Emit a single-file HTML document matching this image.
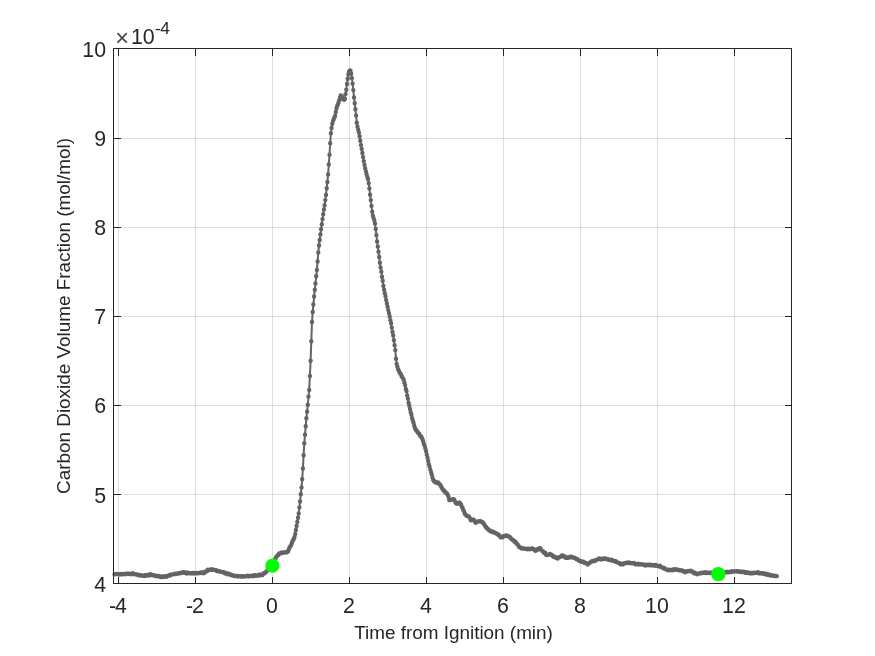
<!DOCTYPE html>
<html lang="en"><head><meta charset="utf-8"><title>Carbon Dioxide Volume Fraction</title>
<style>html,body{margin:0;padding:0;background:#fff}body{width:875px;height:656px;overflow:hidden}svg{display:block}text{font-family:"Liberation Sans",Arial,Helvetica,sans-serif;fill:#262626}</style></head><body>
<svg width="875" height="656" viewBox="0 0 875 656">
<rect width="875" height="656" fill="#fff"/>
<path d="M118.5,49.0V583.0M195.5,49.0V583.0M272.5,49.0V583.0M349.5,49.0V583.0M426.5,49.0V583.0M503.5,49.0V583.0M580.5,49.0V583.0M657.5,49.0V583.0M734.5,49.0V583.0" stroke="#262626" stroke-opacity="0.15" stroke-width="1" fill="none" shape-rendering="crispEdges"/>
<path d="M114.0,494.5H791.0M114.0,405.5H791.0M114.0,316.5H791.0M114.0,227.5H791.0M114.0,138.5H791.0" stroke="#262626" stroke-opacity="0.15" stroke-width="1" fill="none" shape-rendering="crispEdges"/>
<path d="M114.6,574.3 L115.3,574.4 L116.0,574.2 L116.7,574.0 L117.4,574.1 L118.1,574.0 L118.8,574.2 L119.5,574.6 L120.2,574.1 L120.9,574.0 L121.6,574.3 L122.3,574.3 L123.0,574.2 L123.7,573.9 L124.4,574.1 L125.1,574.3 L125.8,573.7 L126.5,574.0 L127.2,573.6 L127.9,573.7 L128.6,573.6 L129.3,574.0 L130.0,573.7 L130.7,574.1 L131.4,574.1 L132.1,574.0 L132.8,573.3 L133.5,574.0 L134.2,574.3 L134.9,574.4 L135.6,574.1 L136.3,574.5 L137.0,574.5 L137.7,574.7 L138.4,575.3 L139.1,574.9 L139.8,575.2 L140.5,575.6 L141.2,575.3 L141.9,575.6 L142.6,575.8 L143.3,575.9 L144.0,575.5 L144.7,575.7 L145.4,575.9 L146.1,575.0 L146.8,575.5 L147.5,575.2 L148.2,574.9 L148.9,575.5 L149.6,575.0 L150.3,574.3 L151.0,574.7 L151.7,575.0 L152.4,575.0 L153.1,575.3 L153.8,575.3 L154.5,575.6 L155.2,576.0 L155.9,575.6 L156.6,576.0 L157.3,575.9 L158.0,576.2 L158.7,576.0 L159.4,576.3 L160.1,576.6 L160.8,577.1 L161.5,577.1 L162.2,576.4 L162.9,576.6 L163.6,577.0 L164.3,576.2 L165.0,576.6 L165.7,576.5 L166.4,576.7 L167.1,576.3 L167.8,575.8 L168.5,575.5 L169.2,575.3 L169.9,575.6 L170.6,574.8 L171.3,574.6 L172.0,574.6 L172.7,574.4 L173.4,574.2 L174.1,573.9 L174.8,574.0 L175.5,573.8 L176.2,574.1 L176.9,573.8 L177.6,573.5 L178.3,573.6 L179.0,573.2 L179.7,573.4 L180.4,573.0 L181.1,573.1 L181.8,572.4 L182.5,572.7 L183.2,572.2 L183.9,572.1 L184.6,572.7 L185.3,572.5 L186.0,572.9 L186.7,573.5 L187.4,572.7 L188.1,572.8 L188.8,573.1 L189.5,573.2 L190.2,573.1 L190.9,573.1 L191.6,573.4 L192.3,573.4 L193.0,573.0 L193.7,573.2 L194.4,573.2 L195.1,572.9 L195.8,573.3 L196.5,572.9 L197.2,573.4 L197.9,573.2 L198.6,573.1 L199.3,572.9 L200.0,573.0 L200.7,572.5 L201.4,572.7 L202.1,573.1 L202.8,572.3 L203.5,573.2 L204.2,572.3 L204.9,572.5 L205.6,571.5 L206.3,571.4 L207.0,570.7 L207.7,569.8 L208.4,570.2 L209.1,570.2 L209.8,569.7 L210.5,569.6 L211.2,569.6 L211.9,569.3 L212.6,569.9 L213.3,569.6 L214.0,569.9 L214.7,569.9 L215.4,570.1 L216.1,570.1 L216.8,571.0 L217.5,570.7 L218.2,571.2 L218.9,571.1 L219.6,571.1 L220.3,571.4 L221.0,571.6 L221.7,572.0 L222.4,572.1 L223.1,572.3 L223.8,572.3 L224.5,572.7 L225.2,573.6 L225.9,573.2 L226.6,573.3 L227.3,573.9 L228.0,574.4 L228.7,573.8 L229.4,574.4 L230.1,574.5 L230.8,574.4 L231.5,575.3 L232.2,575.3 L232.9,575.5 L233.6,575.5 L234.3,576.0 L235.0,575.9 L235.7,576.1 L236.4,575.9 L237.1,575.9 L237.8,576.6 L238.5,576.2 L239.2,576.4 L239.9,576.4 L240.6,576.3 L241.3,576.3 L242.0,576.7 L242.7,576.4 L243.4,576.3 L244.1,576.3 L244.8,576.6 L245.5,576.4 L246.2,576.3 L246.9,576.0 L247.6,575.7 L248.3,576.3 L249.0,576.3 L249.7,575.9 L250.4,576.0 L251.1,576.0 L251.8,576.0 L252.5,576.0 L253.2,575.5 L253.9,576.0 L254.6,575.2 L255.3,575.7 L256.0,575.5 L256.7,575.6 L257.4,575.8 L258.1,575.6 L258.8,574.8 L259.5,574.6 L260.2,575.2 L260.9,574.7 L261.6,574.9 L262.3,575.1 L263.0,573.9 L263.7,573.2 L264.4,573.4 L265.1,572.7 L265.8,572.1 L266.5,571.5 L267.2,570.6 L267.9,569.7 L268.6,569.4 L269.3,568.4 L270.0,567.5 L270.7,567.4 L271.4,566.6 L272.1,566.0 L272.8,564.4 L273.5,562.9 L274.2,561.2 L274.9,559.6 L275.6,558.3 L276.3,556.6 L277.0,556.1 L277.7,555.3 L278.4,555.0 L279.1,553.4 L279.8,553.8 L280.5,553.3 L281.2,553.1 L281.9,552.5 L282.6,552.5 L283.3,552.7 L284.0,552.4 L284.7,552.4 L285.4,552.2 L286.1,552.6 L286.8,552.2 L287.5,551.5 L288.2,551.2 L288.9,549.3 L289.6,547.3 L290.3,546.5 L291.0,545.4 L291.7,543.5 L292.4,541.5 L293.1,540.0 L293.8,539.0 L294.5,537.1 L295.2,534.1 L295.9,530.0 L296.6,525.9 L297.3,522.0 L298.0,517.8 L298.7,513.5 L299.4,507.4 L300.1,501.5 L300.8,494.2 L301.5,487.4 L302.2,479.3 L302.9,468.5 L303.6,455.3 L304.3,443.3 L305.0,434.8 L305.7,426.2 L306.4,418.3 L307.1,411.7 L307.8,404.8 L308.5,396.6 L309.2,390.0 L309.9,375.9 L310.6,360.8 L311.3,341.3 L312.0,321.9 L312.7,312.0 L313.4,304.4 L314.1,296.5 L314.8,289.7 L315.5,283.4 L316.2,276.3 L316.9,269.9 L317.6,261.5 L318.3,252.4 L319.0,245.5 L319.7,240.0 L320.4,234.5 L321.1,229.2 L321.8,224.2 L322.5,219.1 L323.2,214.2 L323.9,209.5 L324.6,205.2 L325.3,200.1 L326.0,194.9 L326.7,188.3 L327.4,182.0 L328.1,174.4 L328.8,164.4 L329.5,154.7 L330.2,143.3 L330.9,133.3 L331.6,127.9 L332.3,123.7 L333.0,120.9 L333.7,119.2 L334.4,117.5 L335.1,115.9 L335.8,112.0 L336.5,108.3 L337.2,106.0 L337.9,104.6 L338.6,102.3 L339.3,100.1 L340.0,97.7 L340.7,95.4 L341.4,95.9 L342.1,96.9 L342.8,98.3 L343.5,99.5 L344.2,99.8 L344.9,98.9 L345.6,94.1 L346.3,89.7 L347.0,84.0 L347.7,78.7 L348.4,74.2 L349.1,71.4 L349.8,70.6 L350.5,70.7 L351.2,73.6 L351.9,78.1 L352.6,83.6 L353.3,90.1 L354.0,97.4 L354.7,103.2 L355.4,109.3 L356.1,115.6 L356.8,122.7 L357.5,126.8 L358.2,129.8 L358.9,132.5 L359.6,136.3 L360.3,140.8 L361.0,145.1 L361.7,148.9 L362.4,153.0 L363.1,157.1 L363.8,161.1 L364.5,164.8 L365.2,168.2 L365.9,171.5 L366.6,174.3 L367.3,177.0 L368.0,178.9 L368.7,183.3 L369.4,188.4 L370.1,194.8 L370.8,200.1 L371.5,205.9 L372.2,211.8 L372.9,215.8 L373.6,218.3 L374.3,220.5 L375.0,223.5 L375.7,228.9 L376.4,235.1 L377.1,241.5 L377.8,246.6 L378.5,251.7 L379.2,257.0 L379.9,262.8 L380.6,267.6 L381.3,271.8 L382.0,276.7 L382.7,280.8 L383.4,285.9 L384.1,289.7 L384.8,293.2 L385.5,296.3 L386.2,300.0 L386.9,303.4 L387.6,306.8 L388.3,310.1 L389.0,313.2 L389.7,316.4 L390.4,320.3 L391.1,323.3 L391.8,327.6 L392.5,332.0 L393.2,335.4 L393.9,340.3 L394.6,345.3 L395.3,350.1 L396.0,358.8 L396.7,363.9 L397.4,366.8 L398.1,369.2 L398.8,370.6 L399.5,372.3 L400.2,373.5 L400.9,374.1 L401.6,376.3 L402.3,377.3 L403.0,378.8 L403.7,379.6 L404.4,382.5 L405.1,385.1 L405.8,389.0 L406.5,391.1 L407.2,395.4 L407.9,398.6 L408.6,402.7 L409.3,405.7 L410.0,409.0 L410.7,412.4 L411.4,414.7 L412.1,418.1 L412.8,420.5 L413.5,422.7 L414.2,425.4 L414.9,428.0 L415.6,429.5 L416.3,430.3 L417.0,431.2 L417.7,432.2 L418.4,433.0 L419.1,433.8 L419.8,435.1 L420.5,436.3 L421.2,436.5 L421.9,437.9 L422.6,439.6 L423.3,441.7 L424.0,444.3 L424.7,446.0 L425.4,448.7 L426.1,451.3 L426.8,454.8 L427.5,457.8 L428.2,460.9 L428.9,464.5 L429.6,466.8 L430.3,469.6 L431.0,472.1 L431.7,474.3 L432.4,477.2 L433.1,479.8 L433.8,481.1 L434.5,481.3 L435.2,482.2 L435.9,482.0 L436.6,482.8 L437.3,482.5 L438.0,482.5 L438.7,483.2 L439.4,484.1 L440.1,484.6 L440.8,485.9 L441.5,487.3 L442.2,488.4 L442.9,489.8 L443.6,490.2 L444.3,490.9 L445.0,492.0 L445.7,492.3 L446.4,493.3 L447.1,493.6 L447.8,495.0 L448.5,496.9 L449.2,500.0 L449.9,500.1 L450.6,500.0 L451.3,499.6 L452.0,499.4 L452.7,499.1 L453.4,499.3 L454.1,499.5 L454.8,500.9 L455.5,502.6 L456.2,503.3 L456.9,503.8 L457.6,503.6 L458.3,502.9 L459.0,502.6 L459.7,502.7 L460.4,504.3 L461.1,504.5 L461.8,506.7 L462.5,507.6 L463.2,509.9 L463.9,511.0 L464.6,513.0 L465.3,514.4 L466.0,514.9 L466.7,515.9 L467.4,516.1 L468.1,516.1 L468.8,516.4 L469.5,517.4 L470.2,519.0 L470.9,520.2 L471.6,520.0 L472.3,519.8 L473.0,519.4 L473.7,519.8 L474.4,520.7 L475.1,522.0 L475.8,522.8 L476.5,522.0 L477.2,521.6 L477.9,521.5 L478.6,521.2 L479.3,521.1 L480.0,521.4 L480.7,521.3 L481.4,521.9 L482.1,521.9 L482.8,522.5 L483.5,523.5 L484.2,524.5 L484.9,525.5 L485.6,526.7 L486.3,527.3 L487.0,528.2 L487.7,528.9 L488.4,529.2 L489.1,530.2 L489.8,530.5 L490.5,531.3 L491.2,531.6 L491.9,531.2 L492.6,532.0 L493.3,532.2 L494.0,532.3 L494.7,532.6 L495.4,533.0 L496.1,533.2 L496.8,533.7 L497.5,534.0 L498.2,534.7 L498.9,535.0 L499.6,536.1 L500.3,536.8 L501.0,537.4 L501.7,537.3 L502.4,537.2 L503.1,536.2 L503.8,536.4 L504.5,535.9 L505.2,535.8 L505.9,535.8 L506.6,535.5 L507.3,535.6 L508.0,535.9 L508.7,536.4 L509.4,536.9 L510.1,537.1 L510.8,538.2 L511.5,539.0 L512.2,539.6 L512.9,540.0 L513.6,540.1 L514.3,541.5 L515.0,541.9 L515.7,542.0 L516.4,543.6 L517.1,543.9 L517.8,544.7 L518.5,545.7 L519.2,547.0 L519.9,547.2 L520.6,547.6 L521.3,548.3 L522.0,548.5 L522.7,548.3 L523.4,548.5 L524.1,548.4 L524.8,548.6 L525.5,548.9 L526.2,549.0 L526.9,548.9 L527.6,549.2 L528.3,548.8 L529.0,549.1 L529.7,549.2 L530.4,549.0 L531.1,548.9 L531.8,548.5 L532.5,548.5 L533.2,549.2 L533.9,549.3 L534.6,549.7 L535.3,550.8 L536.0,550.5 L536.7,550.2 L537.4,549.2 L538.1,549.2 L538.8,548.7 L539.5,548.2 L540.2,548.2 L540.9,549.4 L541.6,550.4 L542.3,550.9 L543.0,551.3 L543.7,552.2 L544.4,553.1 L545.1,552.8 L545.8,554.2 L546.5,555.1 L547.2,554.9 L547.9,554.9 L548.6,554.5 L549.3,554.1 L550.0,553.9 L550.7,554.5 L551.4,554.6 L552.1,555.2 L552.8,555.9 L553.5,556.7 L554.2,556.5 L554.9,556.9 L555.6,557.3 L556.3,558.0 L557.0,558.0 L557.7,558.6 L558.4,557.5 L559.1,557.3 L559.8,557.0 L560.5,556.8 L561.2,556.5 L561.9,555.4 L562.6,555.5 L563.3,556.3 L564.0,556.4 L564.7,556.5 L565.4,557.6 L566.1,557.9 L566.8,557.9 L567.5,557.5 L568.2,557.7 L568.9,557.2 L569.6,557.4 L570.3,556.7 L571.0,556.8 L571.7,557.2 L572.4,557.1 L573.1,557.6 L573.8,557.7 L574.5,557.7 L575.2,558.3 L575.9,558.5 L576.6,559.3 L577.3,559.2 L578.0,559.6 L578.7,560.4 L579.4,561.0 L580.1,561.2 L580.8,560.9 L581.5,561.3 L582.2,561.9 L582.9,561.7 L583.6,561.8 L584.3,562.5 L585.0,563.0 L585.7,563.1 L586.4,563.3 L587.1,563.7 L587.8,564.6 L588.5,563.6 L589.2,563.1 L589.9,562.6 L590.6,562.1 L591.3,561.4 L592.0,561.5 L592.7,560.9 L593.4,560.9 L594.1,560.6 L594.8,561.0 L595.5,560.4 L596.2,559.9 L596.9,559.6 L597.6,559.4 L598.3,559.3 L599.0,558.5 L599.7,558.6 L600.4,558.7 L601.1,559.5 L601.8,559.0 L602.5,558.6 L603.2,558.8 L603.9,559.1 L604.6,558.4 L605.3,558.4 L606.0,559.0 L606.7,559.0 L607.4,559.2 L608.1,559.1 L608.8,559.9 L609.5,560.1 L610.2,559.9 L610.9,560.2 L611.6,559.6 L612.3,560.5 L613.0,560.5 L613.7,560.8 L614.4,561.2 L615.1,561.2 L615.8,561.2 L616.5,562.1 L617.2,562.2 L617.9,562.6 L618.6,562.9 L619.3,563.3 L620.0,563.1 L620.7,564.4 L621.4,564.2 L622.1,564.3 L622.8,564.4 L623.5,563.7 L624.2,563.1 L624.9,563.2 L625.6,563.0 L626.3,563.1 L627.0,563.1 L627.7,562.4 L628.4,562.9 L629.1,562.5 L629.8,563.1 L630.5,563.0 L631.2,563.1 L631.9,563.2 L632.6,563.2 L633.3,563.2 L634.0,563.0 L634.7,563.6 L635.4,564.2 L636.1,564.3 L636.8,564.2 L637.5,564.1 L638.2,563.8 L638.9,564.5 L639.6,564.2 L640.3,564.3 L641.0,564.3 L641.7,564.5 L642.4,564.4 L643.1,564.6 L643.8,564.5 L644.5,564.7 L645.2,565.5 L645.9,564.9 L646.6,564.8 L647.3,565.0 L648.0,565.1 L648.7,564.6 L649.4,564.8 L650.1,565.2 L650.8,565.0 L651.5,564.9 L652.2,565.4 L652.9,564.9 L653.6,565.2 L654.3,565.2 L655.0,565.8 L655.7,565.0 L656.4,565.4 L657.1,565.6 L657.8,566.0 L658.5,566.1 L659.2,566.5 L659.9,565.7 L660.6,566.8 L661.3,566.9 L662.0,567.2 L662.7,567.9 L663.4,567.9 L664.1,568.0 L664.8,568.9 L665.5,568.9 L666.2,569.3 L666.9,569.7 L667.6,569.8 L668.3,570.3 L669.0,569.9 L669.7,569.6 L670.4,570.0 L671.1,570.1 L671.8,570.0 L672.5,570.3 L673.2,569.9 L673.9,569.3 L674.6,569.9 L675.3,569.5 L676.0,569.5 L676.7,569.4 L677.4,569.7 L678.1,569.8 L678.8,570.3 L679.5,570.2 L680.2,570.4 L680.9,570.6 L681.6,570.3 L682.3,570.8 L683.0,571.0 L683.7,571.4 L684.4,571.1 L685.1,572.2 L685.8,571.9 L686.5,571.4 L687.2,571.1 L687.9,571.4 L688.6,571.3 L689.3,570.9 L690.0,571.0 L690.7,570.8 L691.4,571.5 L692.1,571.5 L692.8,572.0 L693.5,572.6 L694.2,573.4 L694.9,572.7 L695.6,573.2 L696.3,573.4 L697.0,574.2 L697.7,573.6 L698.4,573.6 L699.1,573.6 L699.8,573.3 L700.5,573.2 L701.2,573.2 L701.9,572.6 L702.6,572.7 L703.3,572.8 L704.0,572.9 L704.7,572.7 L705.4,572.3 L706.1,572.7 L706.8,573.0 L707.5,573.0 L708.2,572.8 L708.9,572.6 L709.6,573.0 L710.3,572.7 L711.0,572.6 L711.7,572.7 L712.4,573.4 L713.1,573.1 L713.8,573.4 L714.5,573.0 L715.2,573.5 L715.9,573.1 L716.6,573.3 L717.3,574.0 L718.0,573.6 L718.7,573.2 L719.4,573.2 L720.1,573.2 L720.8,573.3 L721.5,572.7 L722.2,572.2 L722.9,572.5 L723.6,572.5 L724.3,572.4 L725.0,572.6 L725.7,572.2 L726.4,572.3 L727.1,571.6 L727.8,572.1 L728.5,572.4 L729.2,572.0 L729.9,571.8 L730.6,571.7 L731.3,572.1 L732.0,571.3 L732.7,571.5 L733.4,571.6 L734.1,571.6 L734.8,571.2 L735.5,571.4 L736.2,571.3 L736.9,571.5 L737.6,571.5 L738.3,571.2 L739.0,571.6 L739.7,571.9 L740.4,571.4 L741.1,571.7 L741.8,572.0 L742.5,571.6 L743.2,572.0 L743.9,571.7 L744.6,572.3 L745.3,572.8 L746.0,572.8 L746.7,572.3 L747.4,572.7 L748.1,572.6 L748.8,572.7 L749.5,573.2 L750.2,572.6 L750.9,573.3 L751.6,573.1 L752.3,573.4 L753.0,573.0 L753.7,572.7 L754.4,573.0 L755.1,573.0 L755.8,572.8 L756.5,572.9 L757.2,572.6 L757.9,572.2 L758.6,573.2 L759.3,573.2 L760.0,573.1 L760.7,573.2 L761.4,573.5 L762.1,573.2 L762.8,573.2 L763.5,573.4 L764.2,574.0 L764.9,573.4 L765.6,574.3 L766.3,574.0 L767.0,574.0 L767.7,574.9 L768.4,574.6 L769.1,574.5 L769.8,574.9 L770.5,575.5 L771.2,575.6 L771.9,575.3 L772.6,575.6 L773.3,575.8 L774.0,575.6 L774.7,576.0 L775.4,576.0 L776.1,575.9 L776.8,576.1" stroke="#636363" stroke-width="2" fill="none" stroke-linejoin="round"/>
<path d="M114.6,574.3h0 M115.3,574.4h0 M116.0,574.2h0 M116.7,574.0h0 M117.4,574.1h0 M118.1,574.0h0 M118.8,574.2h0 M119.5,574.6h0 M120.2,574.1h0 M120.9,574.0h0 M121.6,574.3h0 M122.3,574.3h0 M123.0,574.2h0 M123.7,573.9h0 M124.4,574.1h0 M125.1,574.3h0 M125.8,573.7h0 M126.5,574.0h0 M127.2,573.6h0 M127.9,573.7h0 M128.6,573.6h0 M129.3,574.0h0 M130.0,573.7h0 M130.7,574.1h0 M131.4,574.1h0 M132.1,574.0h0 M132.8,573.3h0 M133.5,574.0h0 M134.2,574.3h0 M134.9,574.4h0 M135.6,574.1h0 M136.3,574.5h0 M137.0,574.5h0 M137.7,574.7h0 M138.4,575.3h0 M139.1,574.9h0 M139.8,575.2h0 M140.5,575.6h0 M141.2,575.3h0 M141.9,575.6h0 M142.6,575.8h0 M143.3,575.9h0 M144.0,575.5h0 M144.7,575.7h0 M145.4,575.9h0 M146.1,575.0h0 M146.8,575.5h0 M147.5,575.2h0 M148.2,574.9h0 M148.9,575.5h0 M149.6,575.0h0 M150.3,574.3h0 M151.0,574.7h0 M151.7,575.0h0 M152.4,575.0h0 M153.1,575.3h0 M153.8,575.3h0 M154.5,575.6h0 M155.2,576.0h0 M155.9,575.6h0 M156.6,576.0h0 M157.3,575.9h0 M158.0,576.2h0 M158.7,576.0h0 M159.4,576.3h0 M160.1,576.6h0 M160.8,577.1h0 M161.5,577.1h0 M162.2,576.4h0 M162.9,576.6h0 M163.6,577.0h0 M164.3,576.2h0 M165.0,576.6h0 M165.7,576.5h0 M166.4,576.7h0 M167.1,576.3h0 M167.8,575.8h0 M168.5,575.5h0 M169.2,575.3h0 M169.9,575.6h0 M170.6,574.8h0 M171.3,574.6h0 M172.0,574.6h0 M172.7,574.4h0 M173.4,574.2h0 M174.1,573.9h0 M174.8,574.0h0 M175.5,573.8h0 M176.2,574.1h0 M176.9,573.8h0 M177.6,573.5h0 M178.3,573.6h0 M179.0,573.2h0 M179.7,573.4h0 M180.4,573.0h0 M181.1,573.1h0 M181.8,572.4h0 M182.5,572.7h0 M183.2,572.2h0 M183.9,572.1h0 M184.6,572.7h0 M185.3,572.5h0 M186.0,572.9h0 M186.7,573.5h0 M187.4,572.7h0 M188.1,572.8h0 M188.8,573.1h0 M189.5,573.2h0 M190.2,573.1h0 M190.9,573.1h0 M191.6,573.4h0 M192.3,573.4h0 M193.0,573.0h0 M193.7,573.2h0 M194.4,573.2h0 M195.1,572.9h0 M195.8,573.3h0 M196.5,572.9h0 M197.2,573.4h0 M197.9,573.2h0 M198.6,573.1h0 M199.3,572.9h0 M200.0,573.0h0 M200.7,572.5h0 M201.4,572.7h0 M202.1,573.1h0 M202.8,572.3h0 M203.5,573.2h0 M204.2,572.3h0 M204.9,572.5h0 M205.6,571.5h0 M206.3,571.4h0 M207.0,570.7h0 M207.7,569.8h0 M208.4,570.2h0 M209.1,570.2h0 M209.8,569.7h0 M210.5,569.6h0 M211.2,569.6h0 M211.9,569.3h0 M212.6,569.9h0 M213.3,569.6h0 M214.0,569.9h0 M214.7,569.9h0 M215.4,570.1h0 M216.1,570.1h0 M216.8,571.0h0 M217.5,570.7h0 M218.2,571.2h0 M218.9,571.1h0 M219.6,571.1h0 M220.3,571.4h0 M221.0,571.6h0 M221.7,572.0h0 M222.4,572.1h0 M223.1,572.3h0 M223.8,572.3h0 M224.5,572.7h0 M225.2,573.6h0 M225.9,573.2h0 M226.6,573.3h0 M227.3,573.9h0 M228.0,574.4h0 M228.7,573.8h0 M229.4,574.4h0 M230.1,574.5h0 M230.8,574.4h0 M231.5,575.3h0 M232.2,575.3h0 M232.9,575.5h0 M233.6,575.5h0 M234.3,576.0h0 M235.0,575.9h0 M235.7,576.1h0 M236.4,575.9h0 M237.1,575.9h0 M237.8,576.6h0 M238.5,576.2h0 M239.2,576.4h0 M239.9,576.4h0 M240.6,576.3h0 M241.3,576.3h0 M242.0,576.7h0 M242.7,576.4h0 M243.4,576.3h0 M244.1,576.3h0 M244.8,576.6h0 M245.5,576.4h0 M246.2,576.3h0 M246.9,576.0h0 M247.6,575.7h0 M248.3,576.3h0 M249.0,576.3h0 M249.7,575.9h0 M250.4,576.0h0 M251.1,576.0h0 M251.8,576.0h0 M252.5,576.0h0 M253.2,575.5h0 M253.9,576.0h0 M254.6,575.2h0 M255.3,575.7h0 M256.0,575.5h0 M256.7,575.6h0 M257.4,575.8h0 M258.1,575.6h0 M258.8,574.8h0 M259.5,574.6h0 M260.2,575.2h0 M260.9,574.7h0 M261.6,574.9h0 M262.3,575.1h0 M263.0,573.9h0 M263.7,573.2h0 M264.4,573.4h0 M265.1,572.7h0 M265.8,572.1h0 M266.5,571.5h0 M267.2,570.6h0 M267.9,569.7h0 M268.6,569.4h0 M269.3,568.4h0 M270.0,567.5h0 M270.7,567.4h0 M271.4,566.6h0 M272.1,566.0h0 M272.8,564.4h0 M273.5,562.9h0 M274.2,561.2h0 M274.9,559.6h0 M275.6,558.3h0 M276.3,556.6h0 M277.0,556.1h0 M277.7,555.3h0 M278.4,555.0h0 M279.1,553.4h0 M279.8,553.8h0 M280.5,553.3h0 M281.2,553.1h0 M281.9,552.5h0 M282.6,552.5h0 M283.3,552.7h0 M284.0,552.4h0 M284.7,552.4h0 M285.4,552.2h0 M286.1,552.6h0 M286.8,552.2h0 M287.5,551.5h0 M288.2,551.2h0 M288.9,549.3h0 M289.6,547.3h0 M290.3,546.5h0 M291.0,545.4h0 M291.7,543.5h0 M292.4,541.5h0 M293.1,540.0h0 M293.8,539.0h0 M294.5,537.1h0 M295.2,534.1h0 M295.9,530.0h0 M296.6,525.9h0 M297.3,522.0h0 M298.0,517.8h0 M298.7,513.5h0 M299.4,507.4h0 M300.1,501.5h0 M300.8,494.2h0 M301.5,487.4h0 M302.2,479.3h0 M302.9,468.5h0 M303.6,455.3h0 M304.3,443.3h0 M305.0,434.8h0 M305.7,426.2h0 M306.4,418.3h0 M307.1,411.7h0 M307.8,404.8h0 M308.5,396.6h0 M309.2,390.0h0 M309.9,375.9h0 M310.6,360.8h0 M311.3,341.3h0 M312.0,321.9h0 M312.7,312.0h0 M313.4,304.4h0 M314.1,296.5h0 M314.8,289.7h0 M315.5,283.4h0 M316.2,276.3h0 M316.9,269.9h0 M317.6,261.5h0 M318.3,252.4h0 M319.0,245.5h0 M319.7,240.0h0 M320.4,234.5h0 M321.1,229.2h0 M321.8,224.2h0 M322.5,219.1h0 M323.2,214.2h0 M323.9,209.5h0 M324.6,205.2h0 M325.3,200.1h0 M326.0,194.9h0 M326.7,188.3h0 M327.4,182.0h0 M328.1,174.4h0 M328.8,164.4h0 M329.5,154.7h0 M330.2,143.3h0 M330.9,133.3h0 M331.6,127.9h0 M332.3,123.7h0 M333.0,120.9h0 M333.7,119.2h0 M334.4,117.5h0 M335.1,115.9h0 M335.8,112.0h0 M336.5,108.3h0 M337.2,106.0h0 M337.9,104.6h0 M338.6,102.3h0 M339.3,100.1h0 M340.0,97.7h0 M340.7,95.4h0 M341.4,95.9h0 M342.1,96.9h0 M342.8,98.3h0 M343.5,99.5h0 M344.2,99.8h0 M344.9,98.9h0 M345.6,94.1h0 M346.3,89.7h0 M347.0,84.0h0 M347.7,78.7h0 M348.4,74.2h0 M349.1,71.4h0 M349.8,70.6h0 M350.5,70.7h0 M351.2,73.6h0 M351.9,78.1h0 M352.6,83.6h0 M353.3,90.1h0 M354.0,97.4h0 M354.7,103.2h0 M355.4,109.3h0 M356.1,115.6h0 M356.8,122.7h0 M357.5,126.8h0 M358.2,129.8h0 M358.9,132.5h0 M359.6,136.3h0 M360.3,140.8h0 M361.0,145.1h0 M361.7,148.9h0 M362.4,153.0h0 M363.1,157.1h0 M363.8,161.1h0 M364.5,164.8h0 M365.2,168.2h0 M365.9,171.5h0 M366.6,174.3h0 M367.3,177.0h0 M368.0,178.9h0 M368.7,183.3h0 M369.4,188.4h0 M370.1,194.8h0 M370.8,200.1h0 M371.5,205.9h0 M372.2,211.8h0 M372.9,215.8h0 M373.6,218.3h0 M374.3,220.5h0 M375.0,223.5h0 M375.7,228.9h0 M376.4,235.1h0 M377.1,241.5h0 M377.8,246.6h0 M378.5,251.7h0 M379.2,257.0h0 M379.9,262.8h0 M380.6,267.6h0 M381.3,271.8h0 M382.0,276.7h0 M382.7,280.8h0 M383.4,285.9h0 M384.1,289.7h0 M384.8,293.2h0 M385.5,296.3h0 M386.2,300.0h0 M386.9,303.4h0 M387.6,306.8h0 M388.3,310.1h0 M389.0,313.2h0 M389.7,316.4h0 M390.4,320.3h0 M391.1,323.3h0 M391.8,327.6h0 M392.5,332.0h0 M393.2,335.4h0 M393.9,340.3h0 M394.6,345.3h0 M395.3,350.1h0 M396.0,358.8h0 M396.7,363.9h0 M397.4,366.8h0 M398.1,369.2h0 M398.8,370.6h0 M399.5,372.3h0 M400.2,373.5h0 M400.9,374.1h0 M401.6,376.3h0 M402.3,377.3h0 M403.0,378.8h0 M403.7,379.6h0 M404.4,382.5h0 M405.1,385.1h0 M405.8,389.0h0 M406.5,391.1h0 M407.2,395.4h0 M407.9,398.6h0 M408.6,402.7h0 M409.3,405.7h0 M410.0,409.0h0 M410.7,412.4h0 M411.4,414.7h0 M412.1,418.1h0 M412.8,420.5h0 M413.5,422.7h0 M414.2,425.4h0 M414.9,428.0h0 M415.6,429.5h0 M416.3,430.3h0 M417.0,431.2h0 M417.7,432.2h0 M418.4,433.0h0 M419.1,433.8h0 M419.8,435.1h0 M420.5,436.3h0 M421.2,436.5h0 M421.9,437.9h0 M422.6,439.6h0 M423.3,441.7h0 M424.0,444.3h0 M424.7,446.0h0 M425.4,448.7h0 M426.1,451.3h0 M426.8,454.8h0 M427.5,457.8h0 M428.2,460.9h0 M428.9,464.5h0 M429.6,466.8h0 M430.3,469.6h0 M431.0,472.1h0 M431.7,474.3h0 M432.4,477.2h0 M433.1,479.8h0 M433.8,481.1h0 M434.5,481.3h0 M435.2,482.2h0 M435.9,482.0h0 M436.6,482.8h0 M437.3,482.5h0 M438.0,482.5h0 M438.7,483.2h0 M439.4,484.1h0 M440.1,484.6h0 M440.8,485.9h0 M441.5,487.3h0 M442.2,488.4h0 M442.9,489.8h0 M443.6,490.2h0 M444.3,490.9h0 M445.0,492.0h0 M445.7,492.3h0 M446.4,493.3h0 M447.1,493.6h0 M447.8,495.0h0 M448.5,496.9h0 M449.2,500.0h0 M449.9,500.1h0 M450.6,500.0h0 M451.3,499.6h0 M452.0,499.4h0 M452.7,499.1h0 M453.4,499.3h0 M454.1,499.5h0 M454.8,500.9h0 M455.5,502.6h0 M456.2,503.3h0 M456.9,503.8h0 M457.6,503.6h0 M458.3,502.9h0 M459.0,502.6h0 M459.7,502.7h0 M460.4,504.3h0 M461.1,504.5h0 M461.8,506.7h0 M462.5,507.6h0 M463.2,509.9h0 M463.9,511.0h0 M464.6,513.0h0 M465.3,514.4h0 M466.0,514.9h0 M466.7,515.9h0 M467.4,516.1h0 M468.1,516.1h0 M468.8,516.4h0 M469.5,517.4h0 M470.2,519.0h0 M470.9,520.2h0 M471.6,520.0h0 M472.3,519.8h0 M473.0,519.4h0 M473.7,519.8h0 M474.4,520.7h0 M475.1,522.0h0 M475.8,522.8h0 M476.5,522.0h0 M477.2,521.6h0 M477.9,521.5h0 M478.6,521.2h0 M479.3,521.1h0 M480.0,521.4h0 M480.7,521.3h0 M481.4,521.9h0 M482.1,521.9h0 M482.8,522.5h0 M483.5,523.5h0 M484.2,524.5h0 M484.9,525.5h0 M485.6,526.7h0 M486.3,527.3h0 M487.0,528.2h0 M487.7,528.9h0 M488.4,529.2h0 M489.1,530.2h0 M489.8,530.5h0 M490.5,531.3h0 M491.2,531.6h0 M491.9,531.2h0 M492.6,532.0h0 M493.3,532.2h0 M494.0,532.3h0 M494.7,532.6h0 M495.4,533.0h0 M496.1,533.2h0 M496.8,533.7h0 M497.5,534.0h0 M498.2,534.7h0 M498.9,535.0h0 M499.6,536.1h0 M500.3,536.8h0 M501.0,537.4h0 M501.7,537.3h0 M502.4,537.2h0 M503.1,536.2h0 M503.8,536.4h0 M504.5,535.9h0 M505.2,535.8h0 M505.9,535.8h0 M506.6,535.5h0 M507.3,535.6h0 M508.0,535.9h0 M508.7,536.4h0 M509.4,536.9h0 M510.1,537.1h0 M510.8,538.2h0 M511.5,539.0h0 M512.2,539.6h0 M512.9,540.0h0 M513.6,540.1h0 M514.3,541.5h0 M515.0,541.9h0 M515.7,542.0h0 M516.4,543.6h0 M517.1,543.9h0 M517.8,544.7h0 M518.5,545.7h0 M519.2,547.0h0 M519.9,547.2h0 M520.6,547.6h0 M521.3,548.3h0 M522.0,548.5h0 M522.7,548.3h0 M523.4,548.5h0 M524.1,548.4h0 M524.8,548.6h0 M525.5,548.9h0 M526.2,549.0h0 M526.9,548.9h0 M527.6,549.2h0 M528.3,548.8h0 M529.0,549.1h0 M529.7,549.2h0 M530.4,549.0h0 M531.1,548.9h0 M531.8,548.5h0 M532.5,548.5h0 M533.2,549.2h0 M533.9,549.3h0 M534.6,549.7h0 M535.3,550.8h0 M536.0,550.5h0 M536.7,550.2h0 M537.4,549.2h0 M538.1,549.2h0 M538.8,548.7h0 M539.5,548.2h0 M540.2,548.2h0 M540.9,549.4h0 M541.6,550.4h0 M542.3,550.9h0 M543.0,551.3h0 M543.7,552.2h0 M544.4,553.1h0 M545.1,552.8h0 M545.8,554.2h0 M546.5,555.1h0 M547.2,554.9h0 M547.9,554.9h0 M548.6,554.5h0 M549.3,554.1h0 M550.0,553.9h0 M550.7,554.5h0 M551.4,554.6h0 M552.1,555.2h0 M552.8,555.9h0 M553.5,556.7h0 M554.2,556.5h0 M554.9,556.9h0 M555.6,557.3h0 M556.3,558.0h0 M557.0,558.0h0 M557.7,558.6h0 M558.4,557.5h0 M559.1,557.3h0 M559.8,557.0h0 M560.5,556.8h0 M561.2,556.5h0 M561.9,555.4h0 M562.6,555.5h0 M563.3,556.3h0 M564.0,556.4h0 M564.7,556.5h0 M565.4,557.6h0 M566.1,557.9h0 M566.8,557.9h0 M567.5,557.5h0 M568.2,557.7h0 M568.9,557.2h0 M569.6,557.4h0 M570.3,556.7h0 M571.0,556.8h0 M571.7,557.2h0 M572.4,557.1h0 M573.1,557.6h0 M573.8,557.7h0 M574.5,557.7h0 M575.2,558.3h0 M575.9,558.5h0 M576.6,559.3h0 M577.3,559.2h0 M578.0,559.6h0 M578.7,560.4h0 M579.4,561.0h0 M580.1,561.2h0 M580.8,560.9h0 M581.5,561.3h0 M582.2,561.9h0 M582.9,561.7h0 M583.6,561.8h0 M584.3,562.5h0 M585.0,563.0h0 M585.7,563.1h0 M586.4,563.3h0 M587.1,563.7h0 M587.8,564.6h0 M588.5,563.6h0 M589.2,563.1h0 M589.9,562.6h0 M590.6,562.1h0 M591.3,561.4h0 M592.0,561.5h0 M592.7,560.9h0 M593.4,560.9h0 M594.1,560.6h0 M594.8,561.0h0 M595.5,560.4h0 M596.2,559.9h0 M596.9,559.6h0 M597.6,559.4h0 M598.3,559.3h0 M599.0,558.5h0 M599.7,558.6h0 M600.4,558.7h0 M601.1,559.5h0 M601.8,559.0h0 M602.5,558.6h0 M603.2,558.8h0 M603.9,559.1h0 M604.6,558.4h0 M605.3,558.4h0 M606.0,559.0h0 M606.7,559.0h0 M607.4,559.2h0 M608.1,559.1h0 M608.8,559.9h0 M609.5,560.1h0 M610.2,559.9h0 M610.9,560.2h0 M611.6,559.6h0 M612.3,560.5h0 M613.0,560.5h0 M613.7,560.8h0 M614.4,561.2h0 M615.1,561.2h0 M615.8,561.2h0 M616.5,562.1h0 M617.2,562.2h0 M617.9,562.6h0 M618.6,562.9h0 M619.3,563.3h0 M620.0,563.1h0 M620.7,564.4h0 M621.4,564.2h0 M622.1,564.3h0 M622.8,564.4h0 M623.5,563.7h0 M624.2,563.1h0 M624.9,563.2h0 M625.6,563.0h0 M626.3,563.1h0 M627.0,563.1h0 M627.7,562.4h0 M628.4,562.9h0 M629.1,562.5h0 M629.8,563.1h0 M630.5,563.0h0 M631.2,563.1h0 M631.9,563.2h0 M632.6,563.2h0 M633.3,563.2h0 M634.0,563.0h0 M634.7,563.6h0 M635.4,564.2h0 M636.1,564.3h0 M636.8,564.2h0 M637.5,564.1h0 M638.2,563.8h0 M638.9,564.5h0 M639.6,564.2h0 M640.3,564.3h0 M641.0,564.3h0 M641.7,564.5h0 M642.4,564.4h0 M643.1,564.6h0 M643.8,564.5h0 M644.5,564.7h0 M645.2,565.5h0 M645.9,564.9h0 M646.6,564.8h0 M647.3,565.0h0 M648.0,565.1h0 M648.7,564.6h0 M649.4,564.8h0 M650.1,565.2h0 M650.8,565.0h0 M651.5,564.9h0 M652.2,565.4h0 M652.9,564.9h0 M653.6,565.2h0 M654.3,565.2h0 M655.0,565.8h0 M655.7,565.0h0 M656.4,565.4h0 M657.1,565.6h0 M657.8,566.0h0 M658.5,566.1h0 M659.2,566.5h0 M659.9,565.7h0 M660.6,566.8h0 M661.3,566.9h0 M662.0,567.2h0 M662.7,567.9h0 M663.4,567.9h0 M664.1,568.0h0 M664.8,568.9h0 M665.5,568.9h0 M666.2,569.3h0 M666.9,569.7h0 M667.6,569.8h0 M668.3,570.3h0 M669.0,569.9h0 M669.7,569.6h0 M670.4,570.0h0 M671.1,570.1h0 M671.8,570.0h0 M672.5,570.3h0 M673.2,569.9h0 M673.9,569.3h0 M674.6,569.9h0 M675.3,569.5h0 M676.0,569.5h0 M676.7,569.4h0 M677.4,569.7h0 M678.1,569.8h0 M678.8,570.3h0 M679.5,570.2h0 M680.2,570.4h0 M680.9,570.6h0 M681.6,570.3h0 M682.3,570.8h0 M683.0,571.0h0 M683.7,571.4h0 M684.4,571.1h0 M685.1,572.2h0 M685.8,571.9h0 M686.5,571.4h0 M687.2,571.1h0 M687.9,571.4h0 M688.6,571.3h0 M689.3,570.9h0 M690.0,571.0h0 M690.7,570.8h0 M691.4,571.5h0 M692.1,571.5h0 M692.8,572.0h0 M693.5,572.6h0 M694.2,573.4h0 M694.9,572.7h0 M695.6,573.2h0 M696.3,573.4h0 M697.0,574.2h0 M697.7,573.6h0 M698.4,573.6h0 M699.1,573.6h0 M699.8,573.3h0 M700.5,573.2h0 M701.2,573.2h0 M701.9,572.6h0 M702.6,572.7h0 M703.3,572.8h0 M704.0,572.9h0 M704.7,572.7h0 M705.4,572.3h0 M706.1,572.7h0 M706.8,573.0h0 M707.5,573.0h0 M708.2,572.8h0 M708.9,572.6h0 M709.6,573.0h0 M710.3,572.7h0 M711.0,572.6h0 M711.7,572.7h0 M712.4,573.4h0 M713.1,573.1h0 M713.8,573.4h0 M714.5,573.0h0 M715.2,573.5h0 M715.9,573.1h0 M716.6,573.3h0 M717.3,574.0h0 M718.0,573.6h0 M718.7,573.2h0 M719.4,573.2h0 M720.1,573.2h0 M720.8,573.3h0 M721.5,572.7h0 M722.2,572.2h0 M722.9,572.5h0 M723.6,572.5h0 M724.3,572.4h0 M725.0,572.6h0 M725.7,572.2h0 M726.4,572.3h0 M727.1,571.6h0 M727.8,572.1h0 M728.5,572.4h0 M729.2,572.0h0 M729.9,571.8h0 M730.6,571.7h0 M731.3,572.1h0 M732.0,571.3h0 M732.7,571.5h0 M733.4,571.6h0 M734.1,571.6h0 M734.8,571.2h0 M735.5,571.4h0 M736.2,571.3h0 M736.9,571.5h0 M737.6,571.5h0 M738.3,571.2h0 M739.0,571.6h0 M739.7,571.9h0 M740.4,571.4h0 M741.1,571.7h0 M741.8,572.0h0 M742.5,571.6h0 M743.2,572.0h0 M743.9,571.7h0 M744.6,572.3h0 M745.3,572.8h0 M746.0,572.8h0 M746.7,572.3h0 M747.4,572.7h0 M748.1,572.6h0 M748.8,572.7h0 M749.5,573.2h0 M750.2,572.6h0 M750.9,573.3h0 M751.6,573.1h0 M752.3,573.4h0 M753.0,573.0h0 M753.7,572.7h0 M754.4,573.0h0 M755.1,573.0h0 M755.8,572.8h0 M756.5,572.9h0 M757.2,572.6h0 M757.9,572.2h0 M758.6,573.2h0 M759.3,573.2h0 M760.0,573.1h0 M760.7,573.2h0 M761.4,573.5h0 M762.1,573.2h0 M762.8,573.2h0 M763.5,573.4h0 M764.2,574.0h0 M764.9,573.4h0 M765.6,574.3h0 M766.3,574.0h0 M767.0,574.0h0 M767.7,574.9h0 M768.4,574.6h0 M769.1,574.5h0 M769.8,574.9h0 M770.5,575.5h0 M771.2,575.6h0 M771.9,575.3h0 M772.6,575.6h0 M773.3,575.8h0 M774.0,575.6h0 M774.7,576.0h0 M775.4,576.0h0 M776.1,575.9h0 M776.8,576.1h0" stroke="#636363" stroke-width="4.4" stroke-linecap="round" fill="none"/>
<circle cx="272.4" cy="565.7" r="7.15" fill="#00ff00"/>
<circle cx="718.3" cy="574.1" r="7.15" fill="#00ff00"/>
<path d="M113.5,48.5H791.5V583.5H113.5ZM118.5,583.5v-7M118.5,48.5v7M195.5,583.5v-7M195.5,48.5v7M272.5,583.5v-7M272.5,48.5v7M349.5,583.5v-7M349.5,48.5v7M426.5,583.5v-7M426.5,48.5v7M503.5,583.5v-7M503.5,48.5v7M580.5,583.5v-7M580.5,48.5v7M657.5,583.5v-7M657.5,48.5v7M734.5,583.5v-7M734.5,48.5v7M113.5,583.5h7M791.5,583.5h-7M113.5,494.5h7M791.5,494.5h-7M113.5,405.5h7M791.5,405.5h-7M113.5,316.5h7M791.5,316.5h-7M113.5,227.5h7M791.5,227.5h-7M113.5,138.5h7M791.5,138.5h-7M113.5,48.5h7M791.5,48.5h-7" stroke="#262626" stroke-width="1" fill="none" shape-rendering="crispEdges"/>
<text x="117.9" y="613.2" font-size="21.33" text-anchor="middle">-<tspan dx="-1.2">4</tspan></text>
<text x="194.9" y="613.2" font-size="21.33" text-anchor="middle">-<tspan dx="-1.2">2</tspan></text>
<text x="271.9" y="613.2" font-size="21.33" text-anchor="middle">0</text>
<text x="348.9" y="613.2" font-size="21.33" text-anchor="middle">2</text>
<text x="425.9" y="613.2" font-size="21.33" text-anchor="middle">4</text>
<text x="502.9" y="613.2" font-size="21.33" text-anchor="middle">6</text>
<text x="579.9" y="613.2" font-size="21.33" text-anchor="middle">8</text>
<text x="656.9" y="613.2" font-size="21.33" text-anchor="middle">10</text>
<text x="733.9" y="613.2" font-size="21.33" text-anchor="middle">12</text>
<text x="106" y="591.6" font-size="21.33" text-anchor="end">4</text>
<text x="106" y="502.5" font-size="21.33" text-anchor="end">5</text>
<text x="106" y="413.4" font-size="21.33" text-anchor="end">6</text>
<text x="106" y="324.3" font-size="21.33" text-anchor="end">7</text>
<text x="106" y="235.2" font-size="21.33" text-anchor="end">8</text>
<text x="106" y="146.1" font-size="21.33" text-anchor="end">9</text>
<text x="106" y="57.0" font-size="21.33" text-anchor="end">10</text>
<text x="115.2" y="46.4" font-size="23.5" fill-opacity="0.85">×</text><text x="131" y="43.8" font-size="21.33">10</text><text x="154.9" y="34" font-size="17.3">-<tspan dx="-0.3">4</tspan></text>
<text x="453.5" y="638.6" font-size="18.9" text-anchor="middle">Time from Ignition (min)</text>
<text transform="translate(70,316) rotate(-90)" font-size="18.9" text-anchor="middle">Carbon Dioxide Volume Fraction (mol/mol)</text>
</svg></body></html>
